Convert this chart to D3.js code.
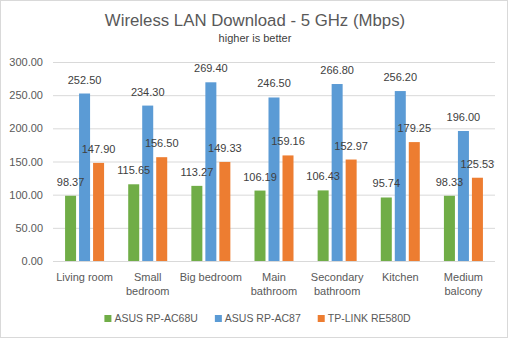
<!DOCTYPE html>
<html><head><meta charset="utf-8">
<script src="https://cdn.jsdelivr.net/npm/d3@7"></script>
<style>body{margin:0;background:#fff}svg{display:block;font-family:"Liberation Sans",Arial,sans-serif}</style>
</head><body><svg id="c" width="508" height="338"></svg>
<script>
const categories = [["Living room"],["Small","bedroom"],["Big bedroom"],["Main","bathroom"],["Secondary","bathroom"],["Kitchen"],["Medium","balcony"]];
const seriesNames = ["ASUS RP-AC68U","ASUS RP-AC87","TP-LINK RE580D"];
const seriesColors = ["#70ad47","#5b9bd5","#ed7d31"];
const ac68u = [98.37,115.65,113.27,106.19,106.43,95.74,98.33];
const ac87 = [252.50,234.30,269.40,246.50,266.80,256.20,196.00];
const re580d = [147.90,156.50,149.33,159.16,152.97,179.25,125.53];
const yTicks = [0,50,100,150,200,250,300];
const series = [ac68u, ac87, re580d];

const svg = d3.select("#c");
svg.append("rect").attr("x",0.5).attr("y",0.5).attr("width",507).attr("height",337).attr("fill","#fff").attr("stroke","#d9d9d9");
const L=53,R=495,T=62,B=261;
const x = d3.scaleBand().domain(d3.range(categories.length)).range([L,R]);
const xs = d3.scaleBand().domain(d3.range(3)).range([0,x.bandwidth()]).paddingInner(0.214).paddingOuter(0.862);
const y = d3.scaleLinear().domain([0,300]).range([B,T]);

svg.append("text").attr("x",255).attr("y",26).attr("text-anchor","middle").attr("font-size",16.8).attr("fill","#595959").text("Wireless LAN Download - 5 GHz (Mbps)");
svg.append("text").attr("x",255).attr("y",42).attr("text-anchor","middle").attr("font-size",11).attr("fill","#404040").text("higher is better");

const yAxis = svg.append("g").attr("transform",`translate(${L},0)`).call(d3.axisLeft(y).tickValues(yTicks).tickSize(-(R-L)).tickFormat(d3.format(".2f")));
yAxis.select(".domain").remove();
yAxis.selectAll(".tick line").attr("stroke","#d9d9d9");
yAxis.selectAll(".tick text").attr("x",-10).attr("font-size",11).attr("fill","#595959").attr("font-family","Liberation Sans, Arial, sans-serif");
svg.append("line").attr("x1",L).attr("x2",R).attr("y1",B+0.5).attr("y2",B+0.5).attr("stroke","#d9d9d9");

series.forEach((vals,si)=>{
  const g = svg.append("g");
  g.selectAll("rect").data(vals).join("rect")
    .attr("x",(d,i)=>x(i)+xs(si)).attr("width",xs.bandwidth())
    .attr("y",d=>y(d)).attr("height",d=>B-y(d)).attr("fill",seriesColors[si]);
});
series.forEach((vals,si)=>{
  svg.append("g").selectAll("text").data(vals).join("text")
    .attr("x",(d,i)=>x(i)+xs(si)+xs.bandwidth()/2).attr("y",d=>y(d)-10)
    .attr("text-anchor","middle").attr("font-size",11).attr("fill","#404040")
    .text(d=>d.toFixed(2));
});

const cl = svg.append("g");
categories.forEach((lines,i)=>{
  const t = cl.append("text").attr("text-anchor","middle").attr("font-size",11).attr("fill","#595959");
  lines.forEach((ln,j)=>t.append("tspan").attr("x",x(i)+x.bandwidth()/2).attr("y",281+j*14).text(ln));
});

// legend laid out by measured text widths, centred like the reference
const lg = svg.append("g");
const items = seriesNames.map((n,i)=>{
  const g = lg.append("g");
  g.append("rect").attr("x",0).attr("y",315).attr("width",7).attr("height",7).attr("fill",seriesColors[i]);
  const t = g.append("text").attr("x",10).attr("y",322).attr("font-size",10.5).attr("fill","#595959").text(n);
  return {g, w: 10 + t.node().getComputedTextLength()};
});
const gap = 17;
const total = d3.sum(items, d=>d.w) + gap*(items.length-1);
let cx = 257.5 - total/2;
items.forEach(it=>{ it.g.attr("transform",`translate(${cx},0)`); cx += it.w + gap; });
</script></body></html>
